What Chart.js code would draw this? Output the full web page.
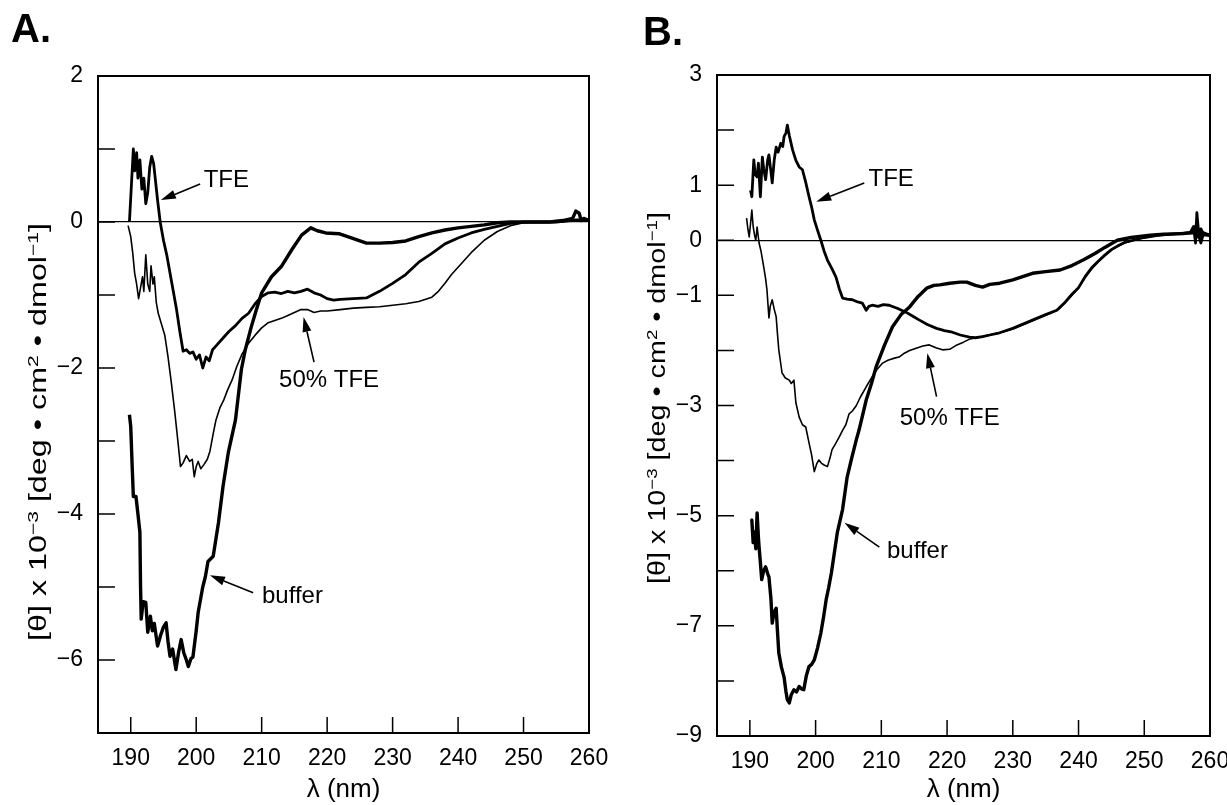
<!DOCTYPE html>
<html>
<head>
<meta charset="utf-8">
<script src="https://cdn.jsdelivr.net/npm/chart.js@4.4.1/dist/chart.umd.min.js"></script>
<style>
  html, body { margin: 0; padding: 0; background: #fff; overflow: hidden; }
  #wrap { position: relative; width: 1227px; height: 805px; }
  canvas { position: absolute; top: 0; }
  #cA { left: 0; }
  #cB { left: 612px; }
  .panel { position: absolute; font: bold 40px "Liberation Sans", Arial, sans-serif; line-height: 40px; }
</style>
</head>
<body>
<div id="wrap">
  <canvas id="cA" width="615" height="805"></canvas>
  <canvas id="cB" width="615" height="805"></canvas>
  <div class="panel" style="left:11px; top:8px;">A.</div>
  <div class="panel" style="left:643px; top:11px;">B.</div>
</div>
<script>
// ---- panel A data (wavelength nm / [theta] x 10^-3) ----
const aTfeX = [189.8, 190.1, 190.4, 190.6, 190.9, 191.1, 191.4, 191.7, 192.0, 192.3, 192.6, 192.9, 193.2, 193.5, 193.8, 194.1, 194.5, 195.0, 195.5, 196.0, 196.5, 197.0, 197.5, 198.0, 198.5, 199.0, 199.5, 200.0, 200.5, 201.0, 201.5, 202.0, 202.5, 203.0, 204.0, 205.0, 206.0, 207.0, 208.0, 209.0, 210.0, 211.0, 212.0, 213.0, 214.0, 215.0, 216.0, 217.0, 218.0, 219.0, 220.0, 221.0, 222.0, 224.0, 226.0, 228.0, 230.0, 232.0, 234.0, 236.0, 238.0, 240.0, 242.0, 244.0, 246.0, 248.0, 250.0, 252.0, 255.0, 258.0, 260.0];
const aTfeY = [0.0, 0.5, 1.0, 0.7, 0.95, 0.6, 0.85, 0.45, 0.6, 0.25, 0.4, 0.75, 0.9, 0.8, 0.55, 0.3, 0.0, -0.25, -0.45, -0.7, -0.95, -1.2, -1.5, -1.77, -1.75, -1.8, -1.78, -1.88, -1.82, -2.0, -1.85, -1.9, -1.75, -1.7, -1.6, -1.5, -1.42, -1.32, -1.25, -1.12, -1.02, -0.97, -0.96, -0.98, -0.95, -0.97, -0.95, -0.92, -0.97, -1.0, -1.05, -1.07, -1.06, -1.05, -1.04, -0.95, -0.84, -0.72, -0.55, -0.43, -0.3, -0.22, -0.15, -0.1, -0.06, -0.02, 0.0, 0.0, 0.0, 0.03, 0.03];

const aHalfX = [189.6, 190.0, 190.3, 190.6, 190.9, 191.2, 191.5, 191.8, 192.0, 192.3, 192.6, 192.9, 193.1, 193.4, 193.6, 193.9, 194.2, 194.7, 195.2, 195.7, 196.2, 196.7, 197.2, 197.6, 198.0, 198.5, 199.0, 199.4, 199.7, 200.0, 200.3, 200.7, 201.2, 201.7, 202.1, 202.6, 203.0, 203.6, 204.2, 204.8, 205.5, 206.2, 207.0, 208.0, 209.0, 210.0, 211.0, 212.0, 213.0, 214.0, 215.0, 216.0, 217.0, 218.0, 219.0, 220.0, 222.0, 224.0, 226.0, 228.0, 230.0, 232.0, 234.0, 236.0, 237.0, 238.0, 239.0, 240.0, 242.0, 244.0, 246.0, 248.0, 250.0, 255.0, 260.0];
const aHalfY = [-0.05, -0.2, -0.42, -0.7, -0.85, -1.05, -0.9, -0.75, -0.95, -0.45, -0.85, -0.95, -0.6, -0.85, -0.75, -1.1, -1.25, -1.4, -1.55, -1.85, -2.2, -2.58, -3.0, -3.35, -3.3, -3.2, -3.28, -3.25, -3.49, -3.35, -3.28, -3.38, -3.32, -3.25, -3.14, -2.9, -2.72, -2.55, -2.44, -2.3, -2.16, -1.98, -1.81, -1.66, -1.55, -1.45, -1.38, -1.35, -1.32, -1.28, -1.24, -1.2, -1.2, -1.24, -1.22, -1.22, -1.2, -1.18, -1.17, -1.16, -1.14, -1.12, -1.09, -1.03, -0.95, -0.84, -0.72, -0.62, -0.42, -0.25, -0.13, -0.05, -0.01, 0.0, 0.02];

const aBufX = [189.8, 190.0, 190.2, 190.4, 190.8, 191.1, 191.4, 191.5, 191.6, 191.9, 192.3, 192.6, 193.0, 193.3, 193.6, 194.1, 194.6, 195.0, 195.4, 195.7, 196.0, 196.4, 196.9, 197.3, 197.7, 198.1, 198.5, 198.8, 199.2, 199.5, 200.0, 200.3, 201.0, 201.4, 201.8, 202.6, 203.4, 204.1, 204.9, 206.0, 206.9, 207.5, 208.4, 209.2, 210.0, 211.5, 213.0, 214.6, 216.1, 217.5, 218.5, 219.8, 221.8, 223.8, 226.0, 228.0, 230.0, 232.0, 234.0, 236.0, 238.0, 240.0, 242.0, 244.0, 246.0, 248.0, 250.0, 254.0, 256.0, 257.5, 258.0, 258.5, 258.8, 259.2, 260.0];
const aBufY = [-2.64, -2.8, -3.3, -3.76, -3.76, -4.0, -4.25, -5.0, -5.44, -5.2, -5.21, -5.62, -5.4, -5.6, -5.5, -5.81, -5.65, -5.55, -5.49, -5.75, -5.95, -5.85, -6.13, -5.9, -5.72, -5.9, -6.0, -6.09, -5.98, -5.96, -5.6, -5.35, -5.0, -4.86, -4.65, -4.58, -4.12, -3.62, -3.16, -2.71, -2.02, -1.75, -1.44, -1.2, -0.97, -0.75, -0.61, -0.38, -0.18, -0.08, -0.12, -0.15, -0.16, -0.22, -0.29, -0.29, -0.28, -0.26, -0.2, -0.15, -0.11, -0.08, -0.06, -0.04, -0.01, 0.0, 0.0, 0.0, 0.02, 0.05, 0.15, 0.12, 0.02, 0.05, 0.02];

// ---- panel B data ----
const bTfeX = [190.1, 190.3, 190.6, 190.8, 191.1, 191.3, 191.6, 191.9, 192.1, 192.4, 192.7, 192.9, 193.2, 193.4, 193.7, 194.0, 194.3, 194.7, 195.0, 195.2, 195.5, 195.7, 196.0, 196.5, 197.0, 197.5, 198.0, 198.5, 199.0, 199.4, 199.8, 200.3, 200.8, 201.3, 201.8, 202.5, 203.1, 203.6, 204.1, 204.8, 205.6, 206.4, 207.1, 207.7, 208.1, 208.6, 209.5, 210.3, 211.2, 212.5, 213.8, 214.8, 215.8, 217.0, 218.4, 219.6, 220.8, 222.0, 223.4, 224.3, 225.4, 226.5, 228.0, 230.0, 232.0, 233.0, 234.0, 235.0, 236.7, 238.0, 239.0, 240.0, 241.0, 242.0, 243.0, 244.0, 245.0, 246.0, 247.0, 248.3, 250.0, 252.0, 254.0, 256.0, 257.0, 257.5, 257.8, 258.0, 258.3, 258.6, 259.0, 260.0];
const bTfeY = [0.91, 0.79, 1.46, 1.2, 1.15, 1.4, 0.79, 1.51, 1.3, 1.1, 1.45, 1.55, 1.25, 1.04, 1.45, 1.69, 1.6, 1.76, 1.7, 1.88, 1.95, 2.09, 1.9, 1.64, 1.45, 1.33, 1.28, 1.05, 0.79, 0.6, 0.37, 0.18, 0.0, -0.2, -0.36, -0.52, -0.67, -0.88, -1.05, -1.07, -1.08, -1.12, -1.14, -1.27, -1.2, -1.18, -1.2, -1.17, -1.18, -1.24, -1.31, -1.38, -1.45, -1.53, -1.6, -1.64, -1.67, -1.72, -1.76, -1.77, -1.75, -1.72, -1.68, -1.6, -1.5, -1.45, -1.4, -1.35, -1.27, -1.12, -0.98, -0.86, -0.66, -0.5, -0.38, -0.27, -0.17, -0.1, -0.04, 0.0, 0.05, 0.09, 0.11, 0.13, 0.14, 0.25, -0.05, 0.5, 0.1, -0.05, 0.12, 0.08];

const bHalfX = [189.5, 189.7, 189.9, 190.1, 190.3, 190.5, 190.7, 190.9, 191.1, 191.4, 191.7, 192.1, 192.4, 192.6, 192.9, 193.1, 193.4, 193.7, 194.0, 194.2, 194.4, 194.9, 195.4, 196.0, 196.3, 196.7, 197.0, 197.5, 198.0, 198.5, 199.0, 199.4, 199.8, 200.2, 200.5, 200.9, 201.3, 201.8, 202.2, 202.5, 203.0, 203.6, 204.1, 204.6, 205.1, 205.6, 206.2, 206.8, 207.7, 208.5, 209.3, 210.2, 211.0, 212.0, 212.7, 213.5, 214.3, 215.3, 216.3, 217.3, 218.3, 219.3, 220.4, 221.5, 222.5, 223.5, 224.5, 226.0, 228.0, 230.0, 232.0, 234.0, 236.0, 237.0, 238.0, 239.0, 240.0, 241.0, 242.0, 243.0, 244.0, 245.0, 246.0, 247.0, 248.5, 250.0, 253.0, 256.0, 258.0, 258.5, 259.0, 260.0];
const bHalfY = [0.4, 0.2, 0.06, 0.3, 0.55, 0.25, 0.1, 0.0, 0.24, -0.05, -0.2, -0.48, -0.7, -0.9, -1.41, -1.2, -1.08, -1.25, -1.39, -1.7, -1.99, -2.41, -2.5, -2.54, -2.6, -2.54, -2.95, -3.21, -3.35, -3.39, -3.68, -3.9, -4.2, -4.05, -3.99, -4.05, -4.08, -4.11, -3.95, -3.8, -3.7, -3.57, -3.45, -3.35, -3.15, -3.1, -3.0, -2.85, -2.66, -2.5, -2.35, -2.23, -2.18, -2.14, -2.12, -2.05, -2.0, -1.96, -1.92, -1.9, -1.95, -1.99, -1.98, -1.9, -1.85, -1.79, -1.77, -1.73, -1.68, -1.61, -1.51, -1.41, -1.31, -1.25, -1.13, -1.0, -0.87, -0.68, -0.52, -0.39, -0.28, -0.18, -0.11, -0.05, 0.0, 0.05, 0.1, 0.12, 0.12, 0.0, 0.15, 0.1];

const bBufX = [190.2, 190.3, 190.5, 190.7, 190.9, 191.1, 191.3, 191.4, 191.6, 191.8, 192.1, 192.4, 192.7, 192.9, 193.2, 193.4, 193.7, 194.0, 194.2, 194.4, 194.8, 195.2, 195.5, 195.7, 196.0, 196.3, 196.7, 197.1, 197.5, 197.9, 198.2, 198.6, 199.0, 199.4, 199.8, 200.3, 200.8, 201.2, 201.6, 202.0, 202.4, 203.3, 204.1, 204.8, 205.5, 206.2, 206.6, 207.7, 208.5, 209.2, 210.5, 211.7, 213.0, 214.3, 215.6, 216.9, 218.0, 218.9, 220.4, 222.0, 223.0, 224.3, 225.4, 226.5, 228.0, 230.0, 231.5, 233.0, 235.0, 237.2, 239.0, 240.7, 242.5, 244.0, 245.9, 248.0, 250.9, 253.0, 256.0, 257.6, 258.0, 258.3, 258.6, 259.0, 260.0];
const bBufY = [-5.1, -5.08, -5.49, -5.3, -5.6, -4.95, -5.4, -5.56, -5.85, -6.16, -6.0, -5.93, -6.05, -6.11, -6.5, -6.95, -6.75, -6.68, -7.1, -7.49, -7.75, -7.93, -8.2, -8.34, -8.4, -8.25, -8.16, -8.2, -8.1, -8.15, -8.16, -7.9, -7.74, -7.7, -7.62, -7.4, -7.13, -6.85, -6.53, -6.3, -6.04, -5.31, -4.89, -4.3, -3.95, -3.62, -3.45, -2.9, -2.6, -2.3, -1.9, -1.57, -1.35, -1.21, -1.02, -0.87, -0.82, -0.81, -0.78, -0.76, -0.76, -0.82, -0.85, -0.8, -0.78, -0.72, -0.66, -0.6, -0.57, -0.54, -0.46, -0.36, -0.24, -0.13, 0.0, 0.05, 0.09, 0.11, 0.12, 0.15, 0.3, 0.05, 0.2, 0.1, 0.1];

// axis ranges
const xRange = [185, 260];
const aYRange = [-7, 2];
const bYRange = [-9, 3];

// labels with arrows [text position, arrow tail, arrow tip] in data units
const notesA = [
  { text: 'TFE', at: [204.6, 0.57], from: [200.6, 0.52], to: [194.6, 0.30] },
  { text: '50% TFE', at: [220.3, -2.17], from: [218.0, -1.92], to: [216.4, -1.30] },
  { text: 'buffer', at: [214.7, -5.13], from: [208.7, -5.08], to: [202.1, -4.84] }
];
const notesB = [
  { text: 'TFE', at: [211.5, 1.11], from: [207.4, 1.04], to: [200.1, 0.70] },
  { text: '50% TFE', at: [220.4, -3.24], from: [218.4, -2.84], to: [217.0, -2.05] },
  { text: 'buffer', at: [215.5, -5.64], from: [209.7, -5.57], to: [204.4, -5.13] }
];

// y title pieces: [text, superscript?]
const yTitleParts = [['[\u03b8] x 10', false], ['\u22123', true], [' [deg \u2022 cm', false], ['2', true], [' \u2022 dmol', false], ['\u22121', true], [']', false]];

const FONT = '"Liberation Sans", Arial, Helvetica, sans-serif';

function fmt(v) {
  return v < 0 ? '\u2212' + Math.abs(v) : String(v);
}

function pts(xs, ys) {
  return xs.map((x, i) => ({ x: x, y: ys[i] }));
}

// frame + inward tick marks
const frameTicks = {
  id: 'frameTicks',
  afterDatasetsDraw(chart) {
    const { ctx, chartArea: a, scales } = chart;
    ctx.save();
    ctx.strokeStyle = '#000';
    ctx.lineWidth = 1.5;
    ctx.beginPath();
    scales.x.ticks.forEach((t) => {
      const px = scales.x.getPixelForValue(t.value);
      ctx.moveTo(px, a.bottom);
      ctx.lineTo(px, a.bottom - 16);
    });
    scales.y.ticks.forEach((t) => {
      const py = scales.y.getPixelForValue(t.value);
      ctx.moveTo(a.left, py);
      ctx.lineTo(a.left + 17, py);
    });
    ctx.stroke();
    ctx.lineWidth = 2;
    ctx.strokeRect(a.left, a.top, a.right - a.left, a.bottom - a.top);
    ctx.restore();
  }
};

// rotated y title with real superscripts, stretched to the length used in the figure
const yTitlePlugin = {
  id: 'yTitlePlugin',
  afterDraw(chart, args, opts) {
    const { ctx, chartArea: a } = chart;
    const main = '23px ' + FONT, sup = '15px ' + FONT;
    ctx.save();
    let w = 0;
    yTitleParts.forEach(([t, s]) => { ctx.font = s ? sup : main; w += ctx.measureText(t).width; });
    const k = opts.length / w;
    ctx.translate(a.left - opts.dx, opts.cy);
    ctx.rotate(-Math.PI / 2);
    ctx.scale(k, 1);
    ctx.fillStyle = '#000';
    ctx.textBaseline = 'alphabetic';
    ctx.textAlign = 'left';
    let x = -w / 2;
    yTitleParts.forEach(([t, s]) => {
      ctx.font = s ? sup : main;
      ctx.fillText(t, x, s ? 0 : 8);
      x += ctx.measureText(t).width;
    });
    ctx.restore();
  }
};

const arrowNotes = {
  id: 'arrowNotes',
  afterDraw(chart, args, opts) {
    const { ctx } = chart;
    const sx = chart.scales.x, sy = chart.scales.y;
    ctx.save();
    ctx.font = '24px ' + FONT;
    ctx.fillStyle = '#000';
    ctx.strokeStyle = '#000';
    ctx.lineWidth = 1.6;
    ctx.textAlign = 'center';
    ctx.textBaseline = 'middle';
    opts.notes.forEach((n) => {
      ctx.fillText(n.text, sx.getPixelForValue(n.at[0]), sy.getPixelForValue(n.at[1]));
      const x0 = sx.getPixelForValue(n.from[0]), y0 = sy.getPixelForValue(n.from[1]);
      const x1 = sx.getPixelForValue(n.to[0]), y1 = sy.getPixelForValue(n.to[1]);
      const ang = Math.atan2(y1 - y0, x1 - x0);
      const head = 15, half = 4.5;
      const bx = x1 - head * Math.cos(ang), by = y1 - head * Math.sin(ang);
      ctx.beginPath();
      ctx.moveTo(x0, y0);
      ctx.lineTo(bx, by);
      ctx.stroke();
      ctx.beginPath();
      ctx.moveTo(x1, y1);
      ctx.lineTo(bx + half * Math.sin(ang), by - half * Math.cos(ang));
      ctx.lineTo(bx - half * Math.sin(ang), by + half * Math.cos(ang));
      ctx.closePath();
      ctx.fill();
    });
    ctx.restore();
  }
};

function makePanel(id, series, yRange, yLabelOk, notes, box) {
  return new Chart(document.getElementById(id), {
    type: 'line',
    data: {
      datasets: series.map((s) => ({
        label: s.label,
        data: s.data,
        borderColor: '#000',
        borderWidth: s.width,
        pointRadius: 0,
        tension: 0,
        borderJoinStyle: 'round',
        fill: false
      }))
    },
    options: {
      responsive: false,
      animation: false,
      events: [],
      layout: { padding: { left: box.padLeft, right: box.padRight, top: box.top, bottom: 0 } },
      plugins: {
        legend: { display: false },
        tooltip: { enabled: false },
        arrowNotes: { notes: notes },
        yTitlePlugin: { cy: box.titleCy, length: box.titleLen, dx: 60 }
      },
      scales: {
        x: {
          type: 'linear',
          min: xRange[0],
          max: xRange[1],
          afterFit: (s) => { s.height = box.xHeight; s.paddingLeft = 0; s.paddingRight = 0; },
          grid: { display: false, drawTicks: false },
          border: { display: false },
          ticks: {
            stepSize: 10,
            includeBounds: false,
            padding: 12,
            color: '#000',
            font: { family: FONT, size: 23 },
            maxRotation: 0,
            callback: (v) => String(v)
          },
          title: {
            display: true,
            text: '\u03bb (nm)',
            color: '#000',
            font: { family: FONT, size: 26 },
            padding: { top: 0, bottom: 0 }
          }
        },
        y: {
          min: yRange[0],
          max: yRange[1],
          afterFit: (s) => { s.width = box.yWidth; },
          grid: {
            drawTicks: false,
            lineWidth: 1.3,
            color: (c) => (c.tick && c.tick.value === 0 ? '#000' : 'rgba(0,0,0,0)')
          },
          border: { display: false },
          ticks: {
            stepSize: 1,
            autoSkip: false,
            padding: 15,
            color: '#000',
            font: { family: FONT, size: 23 },
            callback: (v) => (yLabelOk(v) ? fmt(v) : '')
          },
          title: { display: false }
        }
      }
    },
    plugins: [frameTicks, arrowNotes, yTitlePlugin]
  });
}

makePanel('cA', [
  { label: 'buffer', data: pts(aBufX, aBufY), width: 3.4 },
  { label: 'TFE', data: pts(aTfeX, aTfeY), width: 2.8 },
  { label: '50% TFE', data: pts(aHalfX, aHalfY), width: 1.6 }
], aYRange, (v) => Math.abs(v) % 2 === 0, notesA,
  { padLeft: 20, padRight: 26, top: 76, yWidth: 78, xHeight: 72, titleCy: 432, titleLen: 418 });

makePanel('cB', [
  { label: 'buffer', data: pts(bBufX, bBufY), width: 3.4 },
  { label: 'TFE', data: pts(bTfeX, bTfeY), width: 2.8 },
  { label: '50% TFE', data: pts(bHalfX, bHalfY), width: 1.6 }
], bYRange, (v) => v === 0 || Math.abs(v) % 2 === 1, notesB,
  { padLeft: 26, padRight: 17, top: 75, yWidth: 79, xHeight: 69, titleCy: 398, titleLen: 372 });
</script>
</body>
</html>
